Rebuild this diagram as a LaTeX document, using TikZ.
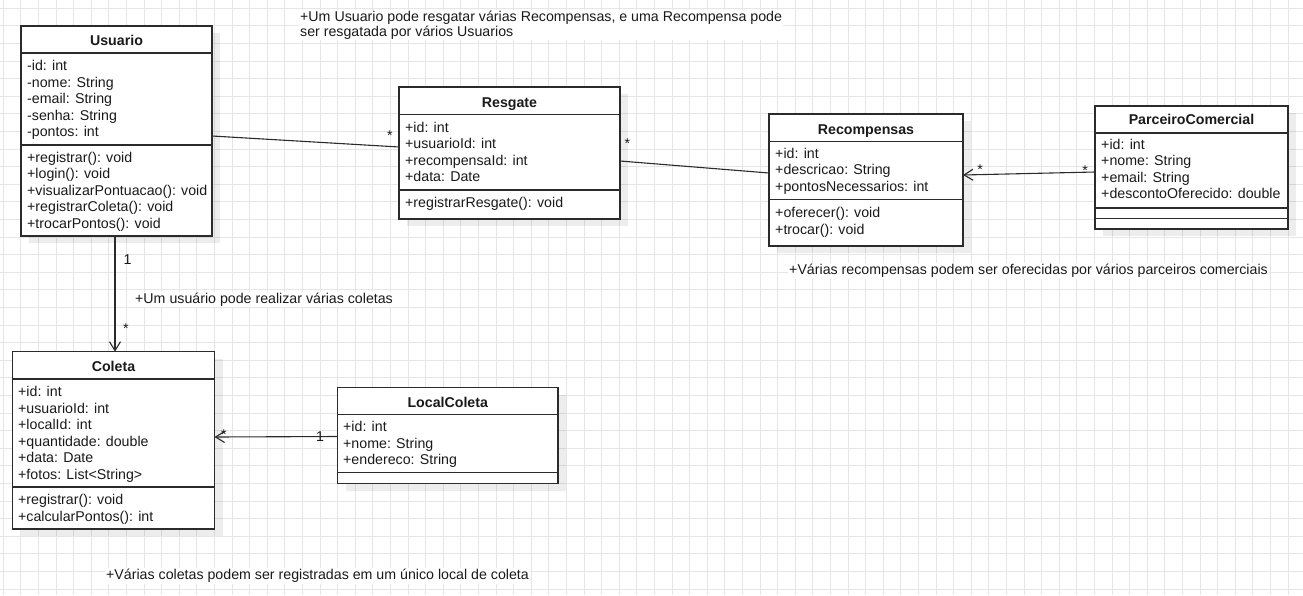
\documentclass[tikz,border=0pt]{standalone}
\usepackage{fontspec}
\setmainfont{Liberation Sans}
\usetikzlibrary{arrows.meta,calc}
\definecolor{gridc}{HTML}{E6E6E6}
\definecolor{boxc}{HTML}{2B2B2B}
\definecolor{txtc}{HTML}{1A1A1A}
\tikzset{
  gridline/.style={draw=gridc, line width=1pt},
  classbox/.style={draw=boxc, line width=1.3pt, fill=white, inner sep=0pt, outer sep=0pt},
  shadowbox/.style={fill=black, opacity=0.07},
  sepline/.style={draw=boxc, line width=1.3pt},
  txt/.style={anchor=base west, inner sep=0pt, text=txtc, font=\fontsize{14.2}{16}\selectfont},
  ttl/.style={anchor=base, inner sep=0pt, text=txtc, font=\fontsize{14.2}{16}\selectfont\bfseries},
  mult/.style={anchor=base, inner sep=0pt, text=txtc, font=\fontsize{14.2}{16}\selectfont},
  note/.style={anchor=north west, inner sep=1pt, fill=white, text=txtc, align=left,
               font=\fontsize{14.2}{14.4}\selectfont},
  conn/.style={draw=boxc, line width=1.1pt},
  openarrow/.style={-{Straight Barb[length=9pt,width=11pt,line width=1.1pt]}}
}
\newcommand\umlbox[5]{%
  \fill[shadowbox] (#2+8,#3+7) rectangle (#4+8,#5+7);
  \node[classbox, minimum width=#4-#2, minimum height=#5-#3] (#1) at ({(#2+#4)/2},{(#3+#5)/2}) {};
}
\begin{document}
\begin{tikzpicture}[x=1pt,y=-1pt]
\useasboundingbox (0,0) rectangle (1303,595);
\fill[white] (0,0) rectangle (1303,595);
% grid
\foreach \i in {0,...,73} \draw[gridline] ({3.3+17.6*\i},0) -- ({3.3+17.6*\i},595);
\foreach \j in {0,...,33} \draw[gridline] (0,{8.3+17.6*\j}) -- (1303,{8.3+17.6*\j});

% ---------- Usuario ----------
\umlbox{usuario}{21}{26}{212}{236}
\draw[sepline] (21,53) -- (212,53);
\draw[sepline] (21,145) -- (212,145);
\node[ttl] (usuarioT) at (116.5,45.5) {Usuario};
\node[txt] (u1) at (27,70.7) {-id: int};
\node[txt] (u2) at (27,87.2) {-nome: String};
\node[txt] (u3) at (27,103.7) {-email: String};
\node[txt] (u4) at (27,120.2) {-senha: String};
\node[txt] (u5) at (27,136.7) {-pontos: int};
\node[txt] (u6) at (27,162.3) {+registrar(): void};
\node[txt] (u7) at (27,178.8) {+login(): void};
\node[txt] (u8) at (27,195.3) {+visualizarPontuacao(): void};
\node[txt] (u9) at (27,211.8) {+registrarColeta(): void};
\node[txt] (u10) at (27,228.3) {+trocarPontos(): void};

% ---------- Resgate ----------
\umlbox{resgate}{399}{87}{620}{219}
\draw[sepline] (399,114.7) -- (620,114.7);
\draw[sepline] (399,190) -- (620,190);
\node[ttl] (resgateT) at (509.5,107) {Resgate};
\node[txt] (r1) at (405,132.3) {+id: int};
\node[txt] (r2) at (405,148.8) {+usuarioId: int};
\node[txt] (r3) at (405,165.3) {+recompensaId: int};
\node[txt] (r4) at (405,181.8) {+data: Date};
\node[txt] (r5) at (405,207.3) {+registrarResgate(): void};

% ---------- Recompensas ----------
\umlbox{recomp}{769}{114}{963}{246}
\draw[sepline] (769,141.7) -- (963,141.7);
\draw[sepline] (769,199.3) -- (963,199.3);
\node[ttl] (recompT) at (866,134) {Recompensas};
\node[txt] (c1) at (775,158) {+id: int};
\node[txt] (c2) at (775,174.5) {+descricao: String};
\node[txt] (c3) at (775,191) {+pontosNecessarios: int};
\node[txt] (c4) at (775,217.5) {+oferecer(): void};
\node[txt] (c5) at (775,234) {+trocar(): void};

% ---------- ParceiroComercial ----------
\umlbox{parceiro}{1095}{106}{1288}{229}
\draw[sepline] (1095,133) -- (1288,133);
\draw[sepline] (1095,208) -- (1288,208);
\draw[sepline] (1095,218.5) -- (1288,218.5);
\node[ttl] (parceiroT) at (1191.5,124.5) {ParceiroComercial};
\node[txt] (p1) at (1101,149) {+id: int};
\node[txt] (p2) at (1101,165.5) {+nome: String};
\node[txt] (p3) at (1101,182) {+email: String};
\node[txt] (p4) at (1101,198.5) {+descontoOferecido: double};

% ---------- Coleta ----------
\umlbox{coleta}{12.5}{351.7}{214.5}{529}
\draw[sepline] (12.5,379) -- (214.5,379);
\draw[sepline] (12.5,487) -- (214.5,487);
\node[ttl] (coletaT) at (113.5,371) {Coleta};
\node[txt] (k1) at (18,396.7) {+id: int};
\node[txt] (k2) at (18,413) {+usuarioId: int};
\node[txt] (k3) at (18,429.5) {+localId: int};
\node[txt] (k4) at (18,446) {+quantidade: double};
\node[txt] (k5) at (18,462.5) {+data: Date};
\node[txt] (k6) at (18,479) {+fotos: List<String>};
\node[txt] (k7) at (18,504.7) {+registrar(): void};
\node[txt] (k8) at (18,521) {+calcularPontos(): int};

% ---------- LocalColeta ----------
\umlbox{local}{337.5}{387.5}{558}{483.5}
\draw[sepline] (337.5,414.5) -- (558,414.5);
\draw[sepline] (337.5,472.5) -- (558,472.5);
\node[ttl] (localT) at (447.75,407) {LocalColeta};
\node[txt] (l1) at (343,431.7) {+id: int};
\node[txt] (l2) at (343,448.2) {+nome: String};
\node[txt] (l3) at (343,464.7) {+endereco: String};

% ---------- connectors ----------
\draw[conn] ($(usuario.north east)+(0,110)$) -- ($(resgate.north west)+(0,60)$);
\draw[conn] ($(resgate.north east)+(0,74)$) -- ($(recomp.north west)+(0,59)$);
\draw[conn, openarrow] ($(parceiro.north west)+(0,66)$) -- ($(recomp.north east)+(0,61)$);
\draw[conn, openarrow] ($(usuario.south west)+(94,0)$) -- ($(coleta.north west)+(102.5,0)$);
\draw[conn, openarrow] ($(local.north west)+(0,49)$) -- ($(coleta.north east)+(0,85.3)$);

% multiplicities
\node[mult] (m1) at (390,140.7) {*};
\node[mult] (m2) at (627.5,148.7) {*};
\node[mult] (m3) at (980,174.7) {*};
\node[mult] (m4) at (1085,175.7) {*};
\node[mult] (m5) at (127.5,264) {1};
\node[mult] (m6) at (126,333.7) {*};
\node[mult] (m7) at (224,439.7) {*};
\node[mult] (m8) at (320,441) {1};

% notes
\node[note] (n1) at (299,10) {+Um Usuario pode resgatar várias Recompensas, e uma Recompensa pode\\ser resgatada por vários Usuarios};
\node[note] (n2) at (134,291.5) {+Um usuário pode realizar várias coletas};
\node[note] (n3) at (788,263) {+Várias recompensas podem ser oferecidas por vários parceiros comerciais};
\node[note] (n4) at (105,568) {+Várias coletas podem ser registradas em um único local de coleta};
\end{tikzpicture}
\end{document}
